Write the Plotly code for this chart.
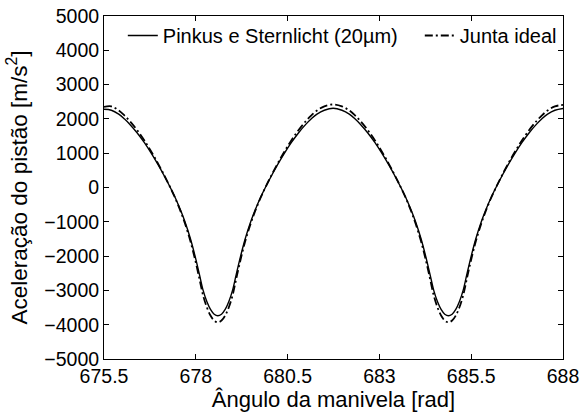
import plotly.graph_objects as go

# Crank angle [rad] (shared by both series)
angle = [675.50, 675.70, 675.90, 676.06, 676.20, 676.40, 676.60, 676.785, 676.98, 677.15,
         677.305, 677.45, 677.60, 677.705, 677.85, 677.98, 678.10, 678.20, 678.30, 678.40,
         678.50, 678.60, 678.70, 678.80, 678.90, 679.00, 679.10, 679.22, 679.35, 679.495,
         679.60, 679.75, 679.895, 680.05, 680.22, 680.415, 680.60, 680.80, 681.00, 681.14,
         681.30, 681.50, 681.74, 681.98, 682.18, 682.34, 682.48, 682.68, 682.88, 683.065,
         683.26, 683.43, 683.585, 683.73, 683.88, 683.985, 684.13, 684.26, 684.38, 684.48,
         684.58, 684.68, 684.78, 684.88, 684.98, 685.08, 685.18, 685.28, 685.38, 685.50,
         685.63, 685.775, 685.88, 686.03, 686.175, 686.33, 686.50, 686.695, 686.88, 687.08,
         687.28, 687.42, 687.58, 687.78, 688.00]

# Piston acceleration [m/s^2], Pinkus e Sternlicht (20 um)
acc_pinkus = [2280, 2252, 2139, 1997, 1847, 1597, 1306, 1000, 650, 320,
              0, -320, -700, -1000, -1480, -2000, -2540, -3000, -3324, -3555,
              -3694, -3740, -3694, -3555, -3324, -3000, -2540, -2000, -1480, -1000,
              -700, -320, 0, 320, 650, 1000, 1306, 1597, 1847, 1997,
              2139, 2252, 2310, 2252, 2139, 1997, 1847, 1597, 1306, 1000,
              650, 320, 0, -320, -700, -1000, -1480, -2000, -2540, -3000,
              -3324, -3555, -3694, -3740, -3694, -3555, -3324, -3000, -2540, -2000,
              -1480, -1000, -700, -320, 0, 320, 650, 1000, 1306, 1597,
              1847, 1997, 2139, 2252, 2305]

# Piston acceleration [m/s^2], Junta ideal
acc_ideal = [2350, 2365, 2246, 2097, 1939, 1677, 1371, 1050, 683, 336,
             0, -336, -735, -1050, -1554, -2100, -2667, -3150, -3490, -3733,
             -3879, -3930, -3879, -3733, -3490, -3150, -2667, -2100, -1554, -1050,
             -735, -336, 0, 336, 683, 1050, 1371, 1677, 1939, 2097,
             2246, 2365, 2420, 2365, 2246, 2097, 1939, 1677, 1371, 1050,
             683, 336, 0, -336, -735, -1050, -1554, -2100, -2667, -3150,
             -3490, -3733, -3879, -3930, -3879, -3733, -3490, -3150, -2667, -2100,
             -1554, -1050, -735, -336, 0, 336, 683, 1050, 1371, 1677,
             1939, 2097, 2246, 2365, 2410]

x_ticks = [675.5, 678, 680.5, 683, 685.5, 688]
x_tick_labels = ["675.5", "678", "680.5", "683", "685.5", "688"]
y_ticks = [-5000, -4000, -3000, -2000, -1000, 0, 1000, 2000, 3000, 4000, 5000]
y_tick_labels = ["\u22125000", "\u22124000", "\u22123000", "\u22122000", "\u22121000", "0",
                 "1000", "2000", "3000", "4000", "5000"]

FONT = "Liberation Sans, Arial, Helvetica, sans-serif"

fig = go.Figure()
fig.add_trace(go.Scatter(
    x=angle, y=acc_pinkus, mode="lines", name="Pinkus e Sternlicht (20\u00b5m)",
    line=dict(color="black", width=1.4, shape="spline", smoothing=1.0),
    legend="legend",
))
fig.add_trace(go.Scatter(
    x=angle, y=acc_ideal, mode="lines", name="Junta ideal",
    line=dict(color="black", width=1.8, dash="8px,3px,2px,3px", shape="spline", smoothing=1.0),
    legend="legend2",
))

axis_common = dict(
    showline=True, linecolor="black", linewidth=1, mirror="ticks",
    ticks="inside", ticklen=5, tickwidth=1, tickcolor="black",
    showgrid=False, zeroline=False, automargin=False,
    tickfont=dict(family=FONT, size=19.5, color="black"),
)

legend_common = dict(
    orientation="h", y=1.0, xanchor="left", yanchor="top",
    bgcolor="rgba(255,255,255,0)", borderwidth=0,
    font=dict(family=FONT, size=20, color="black"),
    itemwidth=30,
)

fig.update_layout(
    width=583, height=415,
    margin=dict(l=104, r=20, t=16, b=56),
    paper_bgcolor="white", plot_bgcolor="white",
    font=dict(family=FONT, size=19.5, color="black"),
    showlegend=True,
    legend=dict(x=0.041, **legend_common),
    legend2=dict(x=0.688, **legend_common),
    xaxis=dict(
        range=[675.5, 688], tickvals=x_ticks, ticktext=x_tick_labels,
        title=dict(text="\u00c2ngulo da manivela [rad]", standoff=0,
                   font=dict(family=FONT, size=22, color="black")),
        **axis_common,
    ),
    yaxis=dict(
        range=[-5000, 5000], tickvals=y_ticks, ticktext=y_tick_labels,
        title=dict(text="Acelera\u00e7\u00e3o do pist\u00e3o [m/s<sup>2</sup>]", standoff=10,
                   font=dict(family=FONT, size=22.5, color="black")),
        **axis_common,
    ),
)

fig.write_html("out.html")
